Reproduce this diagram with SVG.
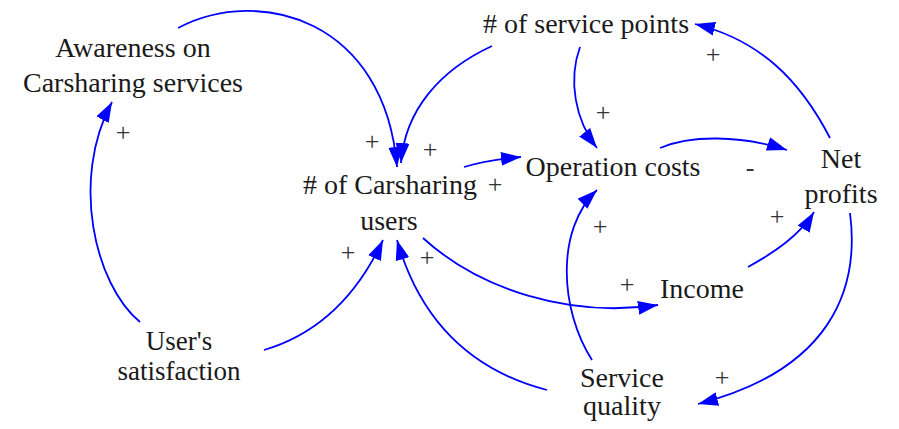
<svg xmlns="http://www.w3.org/2000/svg" width="899" height="429" viewBox="0 0 899 429">
  <defs>
    <marker id="arrow" viewBox="0 0 20 14" refX="20" refY="7" markerWidth="20" markerHeight="14" markerUnits="userSpaceOnUse" orient="auto">
      <path d="M0,0 L20,7 L0,14 Z" fill="#0000ff"/>
    </marker>
  </defs>
  <style>
    .lbl { font-family: "Liberation Serif", "Times New Roman", serif; font-size: 28px; fill: #1a1a1a; text-anchor: middle; }
    .small { font-size: 27px; }
    .sign { font-family: "Liberation Serif", "Times New Roman", serif; font-size: 26px; fill: #333333; text-anchor: middle; }
    .link { fill: none; stroke: #0000ff; stroke-width: 1.8; marker-end: url(#arrow); }
  </style>
  <rect width="899" height="429" fill="#ffffff"/>

  <!-- causal links -->
  <g id="connectors">
    <path class="link" d="M140,322 C95,285 70,180 112,102"/>
    <path class="link" d="M178,28 C260,-15 385,20 397,167"/>
    <path class="link" d="M492,46 C440,70 405,110 401,163"/>
    <path class="link" d="M580,47 C568,80 575,120 597,148"/>
    <path class="link" d="M830,138 C800,80 760,40 695,24"/>
    <path class="link" d="M660,148 C690,135 740,135 787,150"/>
    <path class="link" d="M464,167 C480,162 500,159 521,157"/>
    <path class="link" d="M423,238 C480,290 570,318 658,305"/>
    <path class="link" d="M264,350 C315,335 355,300 383,240"/>
    <path class="link" d="M547,390 C470,370 420,320 397,240"/>
    <path class="link" d="M592,360 C560,310 555,230 597,190"/>
    <path class="link" d="M748,267 C775,252 800,235 814,212"/>
    <path class="link" d="M850,213 C860,290 830,370 698,404"/>
  </g>

  <!-- link polarities -->
  <g id="polarities">
    <text class="sign" x="123" y="141">+</text>
    <text class="sign" x="372" y="150">+</text>
    <text class="sign" x="430" y="158">+</text>
    <text class="sign" x="603" y="121">+</text>
    <text class="sign" x="713" y="63">+</text>
    <text class="sign" x="750" y="176">-</text>
    <text class="sign" x="495" y="193">+</text>
    <text class="sign" x="627" y="293">+</text>
    <text class="sign" x="348" y="261">+</text>
    <text class="sign" x="427" y="266">+</text>
    <text class="sign" x="600" y="235">+</text>
    <text class="sign" x="777" y="225">+</text>
    <text class="sign" x="722" y="386">+</text>
  </g>

  <g id="awareness">
    <text class="lbl" x="133" y="57">Awareness on</text>
    <text class="lbl" x="133" y="92">Carsharing services</text>
  </g>
  <g id="service-points">
    <text class="lbl" x="586" y="33"># of service points</text>
  </g>
  <g id="carsharing-users">
    <text class="lbl" x="390" y="194"># of Carsharing</text>
    <text class="lbl" x="389" y="230">users</text>
  </g>
  <g id="operation-costs">
    <text class="lbl" x="613" y="176">Operation costs</text>
  </g>
  <g id="net-profits">
    <text class="lbl" x="841" y="168">Net</text>
    <text class="lbl" x="841" y="203">profits</text>
  </g>
  <g id="income">
    <text class="lbl" x="702" y="298">Income</text>
  </g>
  <g id="users-satisfaction">
    <text class="lbl small" x="179" y="350">User's</text>
    <text class="lbl small" x="179" y="380">satisfaction</text>
  </g>
  <g id="service-quality">
    <text class="lbl" x="622" y="387">Service</text>
    <text class="lbl" x="622" y="415">quality</text>
  </g>
</svg>
